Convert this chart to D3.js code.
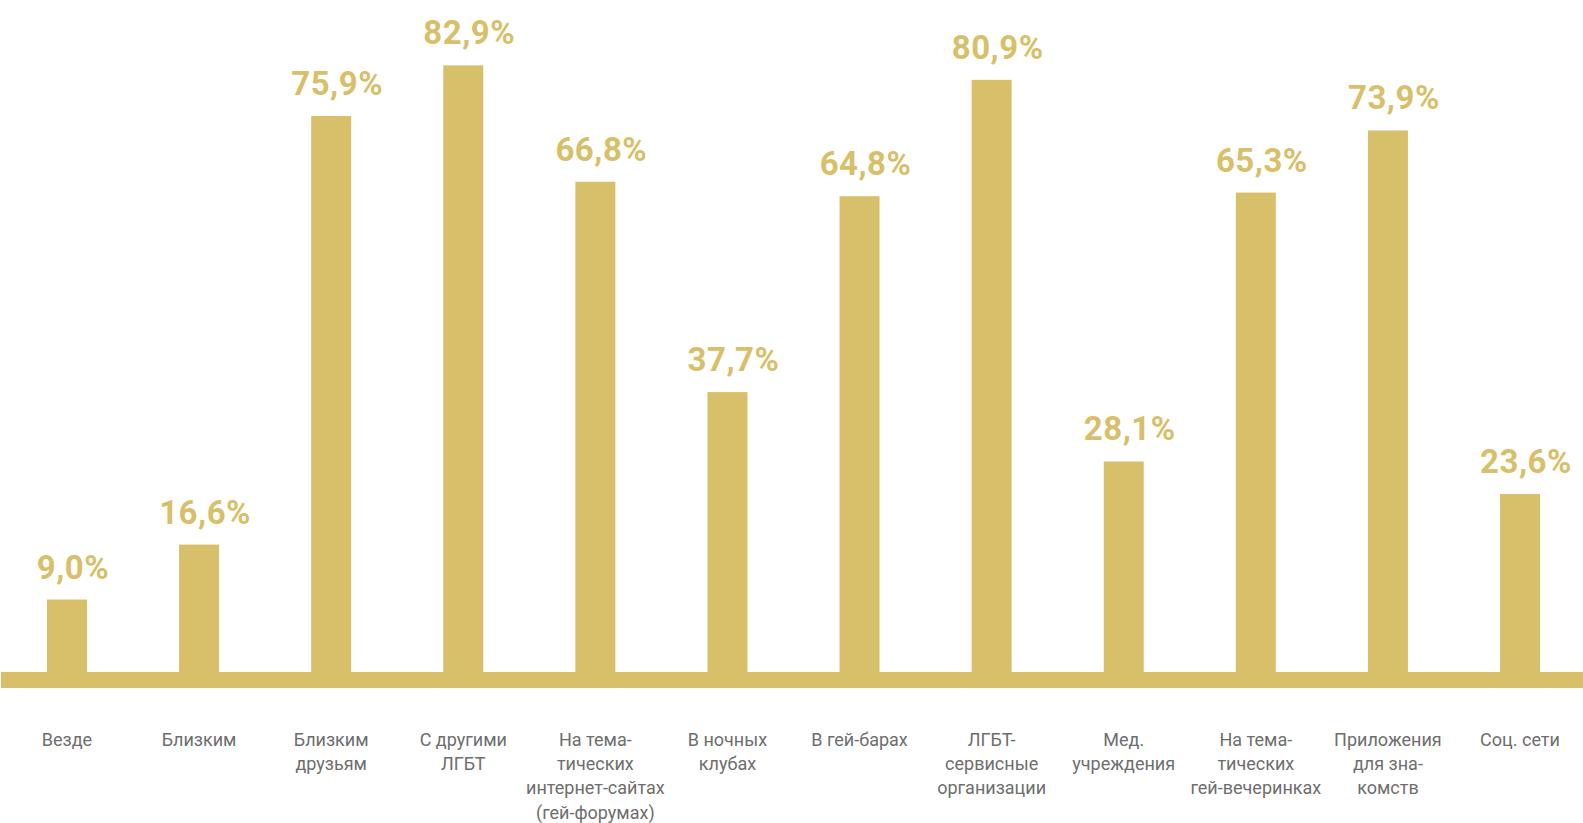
<!DOCTYPE html>
<html lang="ru">
<head>
<meta charset="utf-8">
<script src="https://cdn.jsdelivr.net/npm/d3@7"></script>
<style>
  html, body { margin: 0; padding: 0; background: #ffffff; overflow: hidden; }
  svg { display: block; }
  .value { font-family: Roboto, "Noto Sans", sans-serif; font-weight: 700; }
  .cat { font-family: Roboto, "Noto Sans", sans-serif; font-weight: 400; }
</style>
</head>
<body>
<svg id="chart"></svg>
<script>
// Where respondents are open about themselves (share of answers, %)
const categories = [
  "Везде",
  "Близким",
  "Близким\nдрузьям",
  "С другими\nЛГБТ",
  "На тема-\nтических\nинтернет-сайтах\n(гей-форумах)",
  "В ночных\nклубах",
  "В гей-барах",
  "ЛГБТ-\nсервисные\nорганизации",
  "Мед.\nучреждения",
  "На тема-\nтических\nгей-вечеринках",
  "Приложения\nдля зна-\nкомств",
  "Соц. сети"
];
const values = [9.0, 16.6, 75.9, 82.9, 66.8, 37.7, 64.8, 80.9, 28.1, 65.3, 73.9, 23.6];
const valueLabels = ["9,0%", "16,6%", "75,9%", "82,9%", "66,8%", "37,7%", "64,8%", "80,9%", "28,1%", "65,3%", "73,9%", "23,6%"];

const W = 1583, H = 823;
const gold = "#d8bf69";
const grey = "#6e6e6e";

const svg = d3.select("#chart").attr("width", W).attr("height", H);

const x = d3.scaleBand()
  .domain(categories)
  .range([47, 1540])
  .paddingInner(0.6974)
  .paddingOuter(0);

const y = d3.scaleLinear().domain([0, 100]).range([664.6, -58.2]);

const baseY = 680;      // centre line of the base strip
const baseH = 16;

const data = categories.map((c, i) => ({ cat: c, v: values[i], label: valueLabels[i] }));

// bars
svg.append("g").selectAll("rect")
  .data(data)
  .join("rect")
  .attr("x", d => x(d.cat))
  .attr("width", x.bandwidth())
  .attr("y", d => y(d.v))
  .attr("height", d => baseY - y(d.v))
  .attr("fill", gold);

// base strip
svg.append("rect")
  .attr("x", 1)
  .attr("y", baseY - baseH / 2)
  .attr("width", W - 1)
  .attr("height", baseH)
  .attr("fill", gold);

// value labels
svg.append("g").selectAll("text")
  .data(data)
  .join("text")
  .attr("class", "value")
  .attr("x", d => x(d.cat) + x.bandwidth() / 2 + 6)
  .attr("y", d => y(d.v) - 21)
  .attr("text-anchor", "middle")
  .attr("font-size", 33)
  .attr("letter-spacing", 0.5)
  .attr("fill", gold)
  .text(d => d.label);

// category labels
const cats = svg.append("g").selectAll("text")
  .data(data)
  .join("text")
  .attr("class", "cat")
  .attr("text-anchor", "middle")
  .attr("font-size", 18)
  .attr("fill", grey)
  .attr("x", d => x(d.cat) + x.bandwidth() / 2)
  .attr("y", 746);

cats.selectAll("tspan")
  .data(d => d.cat.split("\n").map(t => ({ t, cx: x(d.cat) + x.bandwidth() / 2 })))
  .join("tspan")
  .attr("x", d => d.cx)
  .attr("dy", (d, i) => i === 0 ? 0 : 24.2)
  .text(d => d.t);
</script>
</body>
</html>
